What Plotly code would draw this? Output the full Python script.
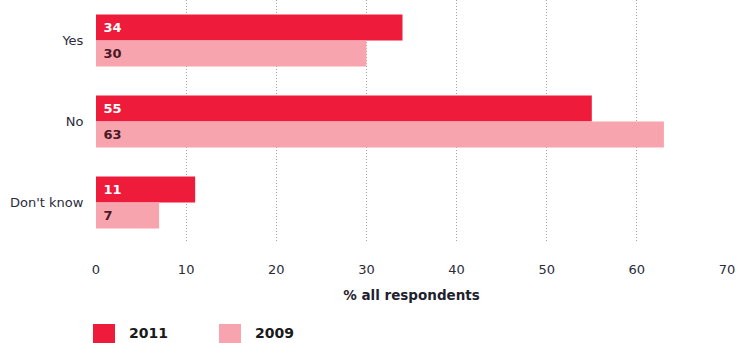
import plotly.graph_objects as go

categories = ["Yes", "No", "Don't know"]
values_2011 = [34, 55, 11]
values_2009 = [30, 63, 7]
series_names = ["2011", "2009"]
x_ticks = [0, 10, 20, 30, 40, 50, 60, 70]

red = "#ee1b3b"
pink = "#f7a4ae"
font_family = "DejaVu Sans, Liberation Sans, sans-serif"

fig = go.Figure()
fig.add_trace(go.Bar(
    y=categories, x=values_2011, orientation="h", name=series_names[0],
    marker=dict(color=red, line=dict(width=0)),
    texttemplate=" %{x}", textposition="inside",
    insidetextanchor="start", textangle=0, constraintext="none",
    textfont=dict(color="white", size=13, family=font_family, weight="bold"),
    showlegend=False, hoverinfo="skip",
))
fig.add_trace(go.Bar(
    y=categories, x=values_2009, orientation="h", name=series_names[1],
    marker=dict(color=pink, line=dict(width=0)),
    texttemplate=" %{x}", textposition="inside",
    insidetextanchor="start", textangle=0, constraintext="none",
    textfont=dict(color="#4a1a24", size=13, family=font_family, weight="bold"),
    showlegend=False, hoverinfo="skip",
))

fig.update_layout(
    width=737, height=343,
    margin=dict(l=96, r=10, t=0, b=100),
    paper_bgcolor="white", plot_bgcolor="white",
    barmode="group", bargap=0.36, bargroupgap=0,
    font=dict(family=font_family, color="#2b2b3b", size=13),
    xaxis=dict(
        range=[0, 70], tickvals=x_ticks, ticktext=[str(t) for t in x_ticks],
        showgrid=True, gridcolor="#a8a2a0", griddash="1px,2px", gridwidth=1,
        zeroline=False, showline=False,
        ticks="outside", ticklen=14, tickcolor="white",
        tickfont=dict(size=13),
        title=dict(text="<b>% all respondents</b>", font=dict(size=13.5, color="#1f1f2f"), standoff=14),
        fixedrange=True,
    ),
    yaxis=dict(
        autorange="reversed", showgrid=False, zeroline=False, showline=False,
        ticks="outside", ticklen=9, tickcolor="white",
        tickfont=dict(size=13),
        fixedrange=True,
    ),
)

# Legend drawn manually (paper coordinates)
legend_items = [(series_names[0], red, 93), (series_names[1], pink, 219)]
for name, color, px in legend_items:
    x0 = (px - 96) / (737 - 96 - 10)
    x1 = (px + 22 - 96) / (737 - 96 - 10)
    fig.add_shape(type="rect", xref="paper", yref="paper",
                  x0=x0, x1=x1, y0=-(324 - 243) / 243, y1=-(345 - 243) / 243,
                  fillcolor=color, line=dict(width=0))
    fig.add_annotation(xref="paper", yref="paper",
                       x=(px + 34 - 96) / 631, y=-(333 - 243) / 243,
                       text="<b>" + name + "</b>", showarrow=False,
                       xanchor="left", yanchor="middle",
                       font=dict(size=14, color="#1a1a1a"))

fig.write_html("out.html")
